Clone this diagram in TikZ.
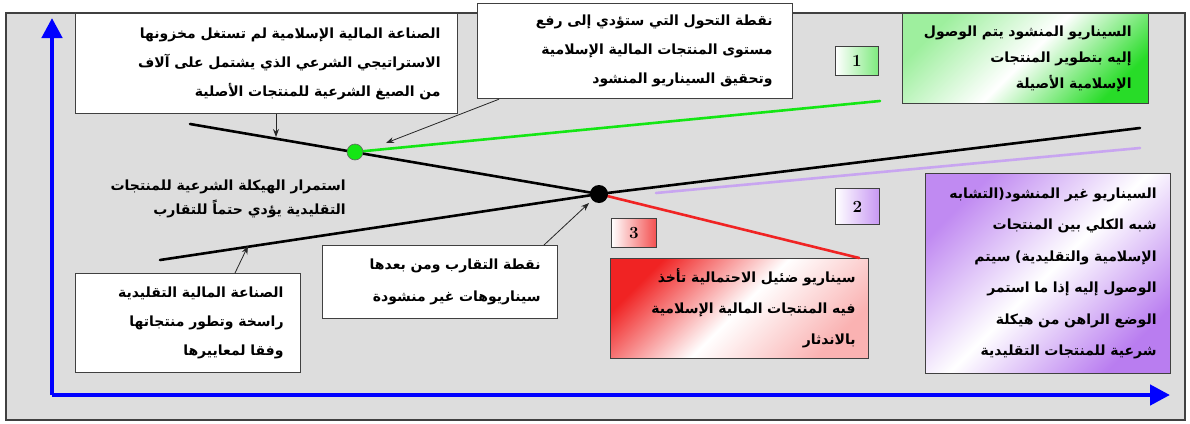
\documentclass[tikz,border=0pt]{standalone}
\usepackage{fontspec}
\newfontfamily\arabicfont[Script=Arabic]{DejaVu Sans}
\TeXXeTstate=1
\usetikzlibrary{arrows.meta,shadings}
\newcommand{\ar}[1]{\beginR #1\endR}
\definecolor{bg}{RGB}{221,221,221}
\definecolor{axisblue}{RGB}{0,0,255}
\definecolor{lgreen}{RGB}{20,230,20}
\definecolor{boxgreen}{RGB}{40,220,40}
\definecolor{lpurple}{RGB}{200,165,240}
\definecolor{boxpurple}{RGB}{185,125,240}
\definecolor{lred}{RGB}{240,35,35}
\tikzset{
  txtbox/.style={draw=black!75, line width=1.2pt, fill=white, anchor=north west,
    inner sep=0pt, align=right, font=\arabicfont\bfseries\fontsize{14}{29}\selectfont},
  plaintxt/.style={inner sep=0pt, align=right, font=\arabicfont\bfseries\fontsize{14}{24}\selectfont},
  numbox/.style={draw=black!75, line width=1pt, anchor=north west, inner sep=0pt,
    font=\bfseries\fontsize{17}{17}\selectfont},
  arr/.style={-{Stealth[length=8pt,width=6pt]}, line width=0.8pt, black!85},
  trend/.style={line width=2.6pt, line cap=round},
  axis/.style={line width=4.5pt, axisblue, -{Triangle[length=20pt,width=20pt]}}
}
\begin{document}
\begin{tikzpicture}[x=1pt,y=-1pt]
\useasboundingbox (0,0) rectangle (1190,423);
\fill[white] (0,0) rectangle (1190,423);
% frame
\draw[fill=bg, draw=black!75, line width=1.6pt] (6,13) rectangle (1185,420);

% axes
\coordinate (origin) at (52,395);
\coordinate (ytip) at (52,18);
\coordinate (xtip) at (1170,395);
\draw[axis] (origin) -- (ytip);
\draw[axis] (origin) -- (xtip);

% trend line points
\coordinate (ul) at (190,124);
\coordinate (ll) at (160,260);
\coordinate (ur) at (1140,128);
\coordinate (gend) at (880,101);
\coordinate (pst) at (656,193);
\coordinate (pend) at (1140,148);

% text boxes
\node[txtbox, minimum width=382pt, minimum height=100pt, text width=348pt] (A) at (75,13)
 {\ar{الصناعة المالية الإسلامية لم تستغل مخزونها}\\
  \ar{الاستراتيجي الشرعي الذي يشتمل على آلاف}\\
  \ar{من الصيغ الشرعية للمنتجات الأصلية}};
\node[txtbox, minimum width=315pt, minimum height=95pt, text width=275pt] (B) at (477,3)
 {\ar{نقطة التحول التي ستؤدي إلى رفع}\\
  \ar{مستوى المنتجات المالية الإسلامية}\\
  \ar{وتحقيق السيناريو المنشود}};
\node[txtbox, minimum width=246pt, minimum height=90pt, text width=212pt,
      top color=boxgreen!45, bottom color=boxgreen, middle color=white, shading angle=45,
      font=\arabicfont\bfseries\fontsize{14}{26}\selectfont] (C) at (902,13)
 {\ar{السيناريو المنشود يتم الوصول}\\
  \ar{إليه بتطوير المنتجات}\\
  \ar{الإسلامية الأصيلة}};
\node[txtbox, minimum width=225pt, minimum height=99pt, text width=191pt] (D) at (75,273)
 {\ar{الصناعة المالية التقليدية}\\
  \ar{راسخة وتطور منتجاتها}\\
  \ar{وفقا لمعاييرها}};
\node[txtbox, minimum width=235pt, minimum height=73pt, text width=201pt,
      font=\arabicfont\bfseries\fontsize{14}{32}\selectfont] (E) at (322,245)
 {\ar{نقطة التقارب ومن بعدها}\\
  \ar{سيناريوهات غير منشودة}};
\node[txtbox, minimum width=258pt, minimum height=100pt, text width=232pt,
      top color=lred, bottom color=lred!35, middle color=white, shading angle=45,
      font=\arabicfont\bfseries\fontsize{14}{31}\selectfont] (F) at (610,258)
 {\ar{سيناريو ضئيل الاحتمالية تأخذ}\\
  \ar{فيه المنتجات المالية الإسلامية}\\
  \ar{بالاندثار}};
\node[txtbox, minimum width=245pt, minimum height=200pt, text width=217pt,
      top color=boxpurple!90, bottom color=boxpurple, middle color=white, shading angle=45,
      font=\arabicfont\bfseries\fontsize{14}{31.5}\selectfont] (G) at (925,173)
 {\ar{السيناريو غير المنشود(التشابه}\\
  \ar{شبه الكلي بين المنتجات}\\
  \ar{الإسلامية والتقليدية) سيتم}\\
  \ar{الوصول إليه إذا ما استمر}\\
  \ar{الوضع الراهن من هيكلة}\\
  \ar{شرعية للمنتجات التقليدية}};

% plain text
\node[plaintxt, anchor=east] (M) at (346,199)
 {\ar{استمرار الهيكلة الشرعية للمنتجات}\\
  \ar{التقليدية يؤدي حتماً للتقارب}};

% number boxes
\node[numbox, minimum width=43pt, minimum height=29pt, left color=white, right color=boxgreen!60] (n1) at (835,46) {1};
\node[numbox, minimum width=44pt, minimum height=36pt, left color=white, right color=boxpurple!80] (n2) at (835,188) {2};
\node[numbox, minimum width=45pt, minimum height=29pt, left color=white, right color=lred!80] (n3) at (611,218) {3};

% trend lines
\draw[trend, lgreen] (355,152) -- (gend);
\draw[trend, lpurple] (pst) -- (pend);
\draw[trend, lred] (599,194) -- ([xshift=-10pt]F.north east);
\draw[trend, black] (ul) -- (599,194);
\draw[trend, black] (ll) -- (599,194) -- (ur);

% dots
\node[circle, fill=lgreen, draw=black!60, line width=0.6pt, minimum size=16pt, inner sep=0pt] (gdot) at (355,152) {};
\node[circle, fill=black, minimum size=18pt, inner sep=0pt] (bdot) at (599,194) {};

% pointer arrows
\coordinate (ta) at (276,137);
\coordinate (tb) at (386,143);
\coordinate (te) at (589,203);
\coordinate (td) at (248,246);
\draw[arr] ([xshift=201pt]A.south west) -- (ta);
\draw[arr] ([xshift=22pt]B.south west) -- (tb);
\draw[arr] ([xshift=222pt]E.north west) -- (te);
\draw[arr] ([xshift=160pt]D.north west) -- (td);
\end{tikzpicture}
\end{document}
